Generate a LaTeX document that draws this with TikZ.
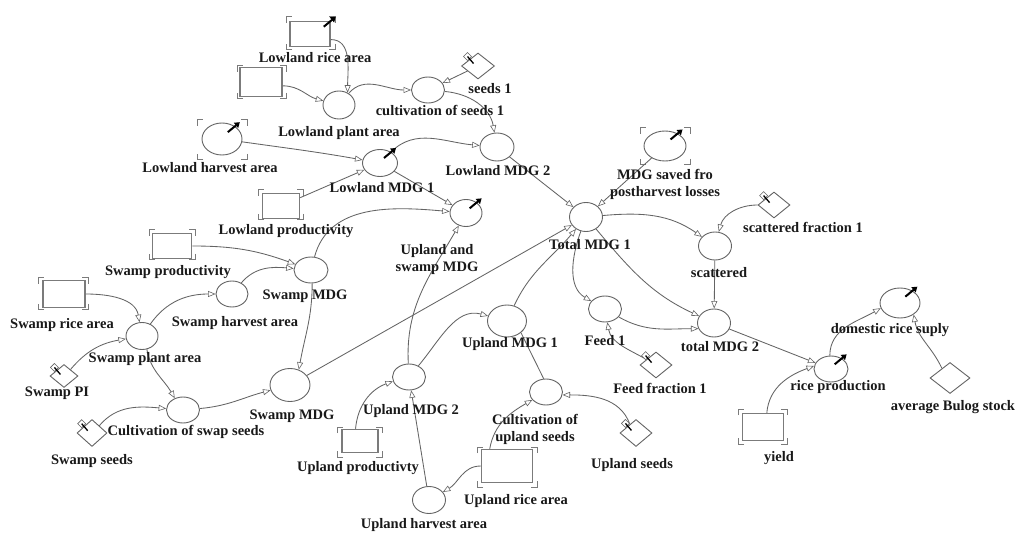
\documentclass[tikz,border=0pt]{standalone}
\usepackage{fontspec}
\setmainfont{Liberation Serif}
\usetikzlibrary{shapes.geometric,arrows.meta,calc}
\definecolor{lc}{RGB}{100,100,100}
\newcommand{\lblfont}{\bfseries\fontsize{14.5}{17}\selectfont}
\newcommand{\cornerbr}[4]{%
  \draw[brk] (#1,{-#2-6}) -- (#1,-#2) -- ({#1+6},-#2)
             ({#3-6},-#2) -- (#3,-#2) -- (#3,{-#2-6})
             (#3,{-#4+6}) -- (#3,-#4) -- ({#3-6},-#4)
             ({#1+6},-#4) -- (#1,-#4) -- (#1,{-#4+6});}
\newcommand{\blkarr}[1]{\draw[blk] ($(#1)+(-7,-6)$) -- ($(#1)+(5,4)$);}
\newcommand{\constpin}[1]{%
  \draw[lc, line width=0.6pt, fill=white] ($(#1)+(-7,2)$) -- ($(#1)+(-3,6)$) -- ($(#1)+(1,2)$) -- ($(#1)+(-3,-2)$) -- cycle;
  \draw[black, line width=1.3pt] ($(#1)+(-3,2)$) -- ($(#1)+(3,-5)$);}
\tikzset{
  sz/.style 2 args={minimum width=#1pt, minimum height=#2pt},
  aux/.style={ellipse, draw=lc, line width=0.9pt, fill=white, inner sep=0pt},
  lvl/.style={rectangle, draw=lc!85, line width=1.5pt, fill=white, inner sep=0pt},
  cst/.style={diamond, draw=lc, line width=0.9pt, fill=white, inner sep=0pt},
  lbl/.style={font=\lblfont, inner sep=0pt, align=center, text=black!90},
  lnk/.style={draw=lc, line width=0.85pt, -{Triangle[length=7.5pt,width=6pt,fill=white,line width=0.6pt]}},
  plainln/.style={draw=lc, line width=0.85pt},
  brk/.style={draw=lc!85, line width=1pt},
  blk/.style={black, line width=2pt, -{Triangle[length=5pt,width=6.5pt]}},
}
\begin{document}
\begin{tikzpicture}[x=1pt,y=1pt]
\fill[white] (0,0) rectangle (1019,-534);
\useasboundingbox (0,0) rectangle (1019,-534);

% ---------- elements ----------
\node[lvl,sz={40}{25}] (lra) at (310,-34) {};
\node[lvl,sz={42}{29}] (unl) at (261,-82) {};
\node[aux,sz={32}{28}] (lpa) at (339,-105) {};
\node[aux,sz={33}{26}] (cs1) at (428,-90) {};
\node[cst,sz={33}{26}] (s1) at (478,-66) {};
\node[aux,sz={34}{28}] (lm2) at (497,-147) {};
\node[aux,sz={40}{32}] (lha) at (222,-139) {};
\node[aux,sz={35}{27}] (lm1) at (380,-163) {};
\node[lvl,sz={37}{25}] (lp) at (281,-206) {};
\node[aux,sz={32}{27}] (usm) at (466,-213) {};
\node[aux,sz={33}{29}] (tm1) at (586,-217) {};
\node[aux,sz={42}{30}] (mdgs) at (665,-146) {};
\node[aux,sz={33}{28}] (sc) at (715,-246) {};
\node[cst,sz={32}{26}] (sf1) at (774,-205) {};
\node[aux,sz={33}{28}] (tm2) at (714,-323) {};
\node[aux,sz={33}{26}] (feed) at (605,-309) {};
\node[cst,sz={32}{26}] (ff1) at (656,-365) {};
\node[aux,sz={34}{26}] (rp) at (831,-369) {};
\node[lvl,sz={41}{27}] (yld) at (763,-427) {};
\node[aux,sz={40}{30}] (drs) at (900,-303) {};
\node[cst,sz={40}{31}] (abs) at (950,-378) {};
\node[lvl,sz={39}{25}] (sp) at (172,-246) {};
\node[aux,sz={34}{26}] (smu) at (311,-270) {};
\node[lvl,sz={42}{27}] (sra) at (64,-294) {};
\node[aux,sz={32}{27}] (spa) at (142,-336) {};
\node[aux,sz={32}{26}] (sha) at (232,-294) {};
\node[cst,sz={28}{23}] (spi) at (64,-376) {};
\node[aux,sz={33}{26}] (csw) at (183,-410) {};
\node[cst,sz={30}{27}] (ss) at (92,-433) {};
\node[aux,sz={40}{33}] (sml) at (290,-385) {};
\node[aux,sz={39}{32}] (um1) at (507,-321) {};
\node[aux,sz={33}{26}] (cus) at (546,-392) {};
\node[cst,sz={32}{27}] (us) at (636,-433) {};
\node[lvl,sz={51}{33}] (ura) at (507,-466) {};
\node[aux,sz={33}{27}] (uha) at (429,-500) {};
\node[aux,sz={33}{26}] (um2) at (409,-377) {};
\node[lvl,sz={36}{23}] (upr) at (360,-441) {};

% ---------- brackets ----------
\cornerbr{286}{17}{335}{50}
\cornerbr{237}{66}{286}{99}
\cornerbr{197}{120}{247}{160}
\cornerbr{258}{190}{303}{220}
\cornerbr{149}{230}{195}{260}
\cornerbr{38}{278}{88}{310}
\cornerbr{337}{427}{382}{457}
\cornerbr{477}{447}{537}{487}
\cornerbr{738}{409}{787}{444}
\cornerbr{640}{128}{690}{165}

% ---------- connectors ----------
\draw[lnk] (lra.-15) to[out=0,in=90] (lpa.55);
\draw[lnk] (unl.-10) to[out=0,in=165] (lpa);
\draw[lnk] (lpa) to[out=50,in=180] (cs1);
\draw[lnk] (s1) -- (cs1);
\draw[lnk] (cs1) to[out=-5,in=100] (lm2);
\draw[lnk] (lha) to[out=-8,in=170] (lm1);
\draw[lnk] (lp) -- (lm1);
\draw[lnk] (lm1) to[out=45,in=175] (lm2);
\draw[lnk] (lm1) -- (usm);
\draw[lnk] (smu) to[out=75,in=175] (usm);
\draw[lnk] (um2) to[out=93,in=-120] (usm);
\draw[lnk] (lm2) -- (tm1);
\draw[lnk] (mdgs) -- (tm1);
\draw[lnk] (sml) -- (tm1);
\draw[lnk] (um1) to[out=65,in=230] (tm1);
\draw[lnk] (tm1) to[out=5,in=145] (sc);
\draw[lnk] (sf1.west) to[out=180,in=75] (sc);
\draw[lnk] (sc) -- (tm2);
\draw[lnk] (tm1) to[out=-50,in=155] (tm2);
\draw[lnk] (tm1) to[out=-110,in=150] (feed);
\draw[lnk] (feed) to[out=-30,in=180] (tm2.200);
\draw[lnk] (ff1) to[out=150,in=-80] (feed);
\draw[lnk] (tm2) -- (rp);
\draw[lnk] (yld.75) to[out=85,in=200] (rp.170);
\draw[lnk] (rp.95) to[out=90,in=210] (drs.195);
\draw[lnk] (abs.130) to[out=115,in=-80] (drs.-40);
\draw[lnk] (sp.east) to[out=0,in=160] (smu);
\draw[lnk] (sra.east) to[out=0,in=100] (spa);
\draw[lnk] (spa) to[out=55,in=180] (sha);
\draw[lnk] (sha) to[out=50,in=175] (smu);
\draw[lnk] (smu.-85) to[out=-90,in=80] (sml.60);
\draw[lnk] (spi.45) to[out=50,in=190] (spa);
\draw[lnk] (spa.-70) to[out=-80,in=120] (csw.125);
\draw[lnk] (ss.45) to[out=50,in=175] (csw);
\draw[lnk] (csw) to[out=5,in=195] (sml);
\draw[lnk] (um2) to[out=50,in=165] (um1);
\draw[plainln] (um1.-40) -- (cus.100);
\draw[lnk] (us.125) to[out=110,in=0] (cus.-10);
\draw[lnk] (ura.135) to[out=80,in=210] (cus);
\draw[lnk] (ura.west) to[out=180,in=30] (uha);
\draw[lnk] (uha) -- (um2);
\draw[lnk] (upr.110) to[out=85,in=200] (um2.195);

% ---------- black arrows and pins ----------
\draw[blk] ($(lra.north east)+(-7,-6)$) -- ($(lra.north east)+(5,4)$);
\blkarr{lha.45}
\blkarr{lm1.45}
\blkarr{usm.45}
\blkarr{mdgs.45}
\blkarr{rp.45}
\blkarr{drs.45}
\constpin{s1.135}
\constpin{sf1.135}
\constpin{spi.135}
\constpin{ss.135}
\constpin{ff1.135}
\constpin{us.135}

% ---------- labels ----------
\node[lbl] (t-lra) at (315,-58) {Lowland rice area};
\node[lbl] (t-lpa) at (339,-133) {Lowland plant area};
\node[lbl] (t-cs1) at (440,-110) {cultivation of seeds 1};
\node[lbl] (t-s1) at (490,-89) {seeds 1};
\node[lbl] (t-lm2) at (498,-171) {Lowland MDG 2};
\node[lbl] (t-lha) at (210,-168) {Lowland harvest area};
\node[lbl] (t-lm1) at (382,-188) {Lowland MDG 1};
\node[lbl] (t-lp) at (286,-231) {Lowland productivity};
\node[lbl] (t-usm) at (437,-260) {Upland and\\swamp MDG};
\node[lbl] (t-tm1) at (590,-245) {Total MDG 1};
\node[lbl] (t-mdgs) at (665,-184) {MDG saved fro\\postharvest losses};
\node[lbl] (t-sf1) at (803,-227) {scattered fraction 1};
\node[lbl] (t-sc) at (719,-273) {scattered};
\node[lbl] (t-tm2) at (720,-347) {total MDG 2};
\node[lbl] (t-feed) at (605,-341) {Feed 1};
\node[lbl] (t-ff1) at (660,-388) {Feed fraction 1};
\node[lbl] (t-rp) at (838,-387) {rice production};
\node[lbl] (t-yld) at (779,-458) {yield};
\node[lbl] (t-drs) at (890,-330) {domestic rice suply};
\node[lbl] (t-abs) at (953,-407) {average Bulog stock};
\node[lbl] (t-sp) at (168,-272) {Swamp productivity};
\node[lbl] (t-smu) at (305,-296) {Swamp MDG};
\node[lbl] (t-sra) at (62,-325) {Swamp rice area};
\node[lbl] (t-sha) at (235,-323) {Swamp harvest area};
\node[lbl] (t-spa) at (145,-359) {Swamp plant area};
\node[lbl] (t-spi) at (57,-393) {Swamp PI};
\node[lbl] (t-csw) at (186,-432) {Cultivation of swap seeds};
\node[lbl] (t-ss) at (92,-461) {Swamp seeds};
\node[lbl] (t-sml) at (292,-416) {Swamp MDG};
\node[lbl] (t-um1) at (510,-344) {Upland MDG 1};
\node[lbl] (t-um2) at (411,-411) {Upland MDG 2};
\node[lbl] (t-cus) at (535,-429) {Cultivation of\\upland seeds};
\node[lbl] (t-us) at (632,-465) {Upland seeds};
\node[lbl] (t-ura) at (516,-501) {Upland rice area};
\node[lbl] (t-uha) at (424,-525) {Upland harvest area};
\node[lbl] (t-upr) at (358,-468) {Upland productivty};
\end{tikzpicture}
\end{document}
